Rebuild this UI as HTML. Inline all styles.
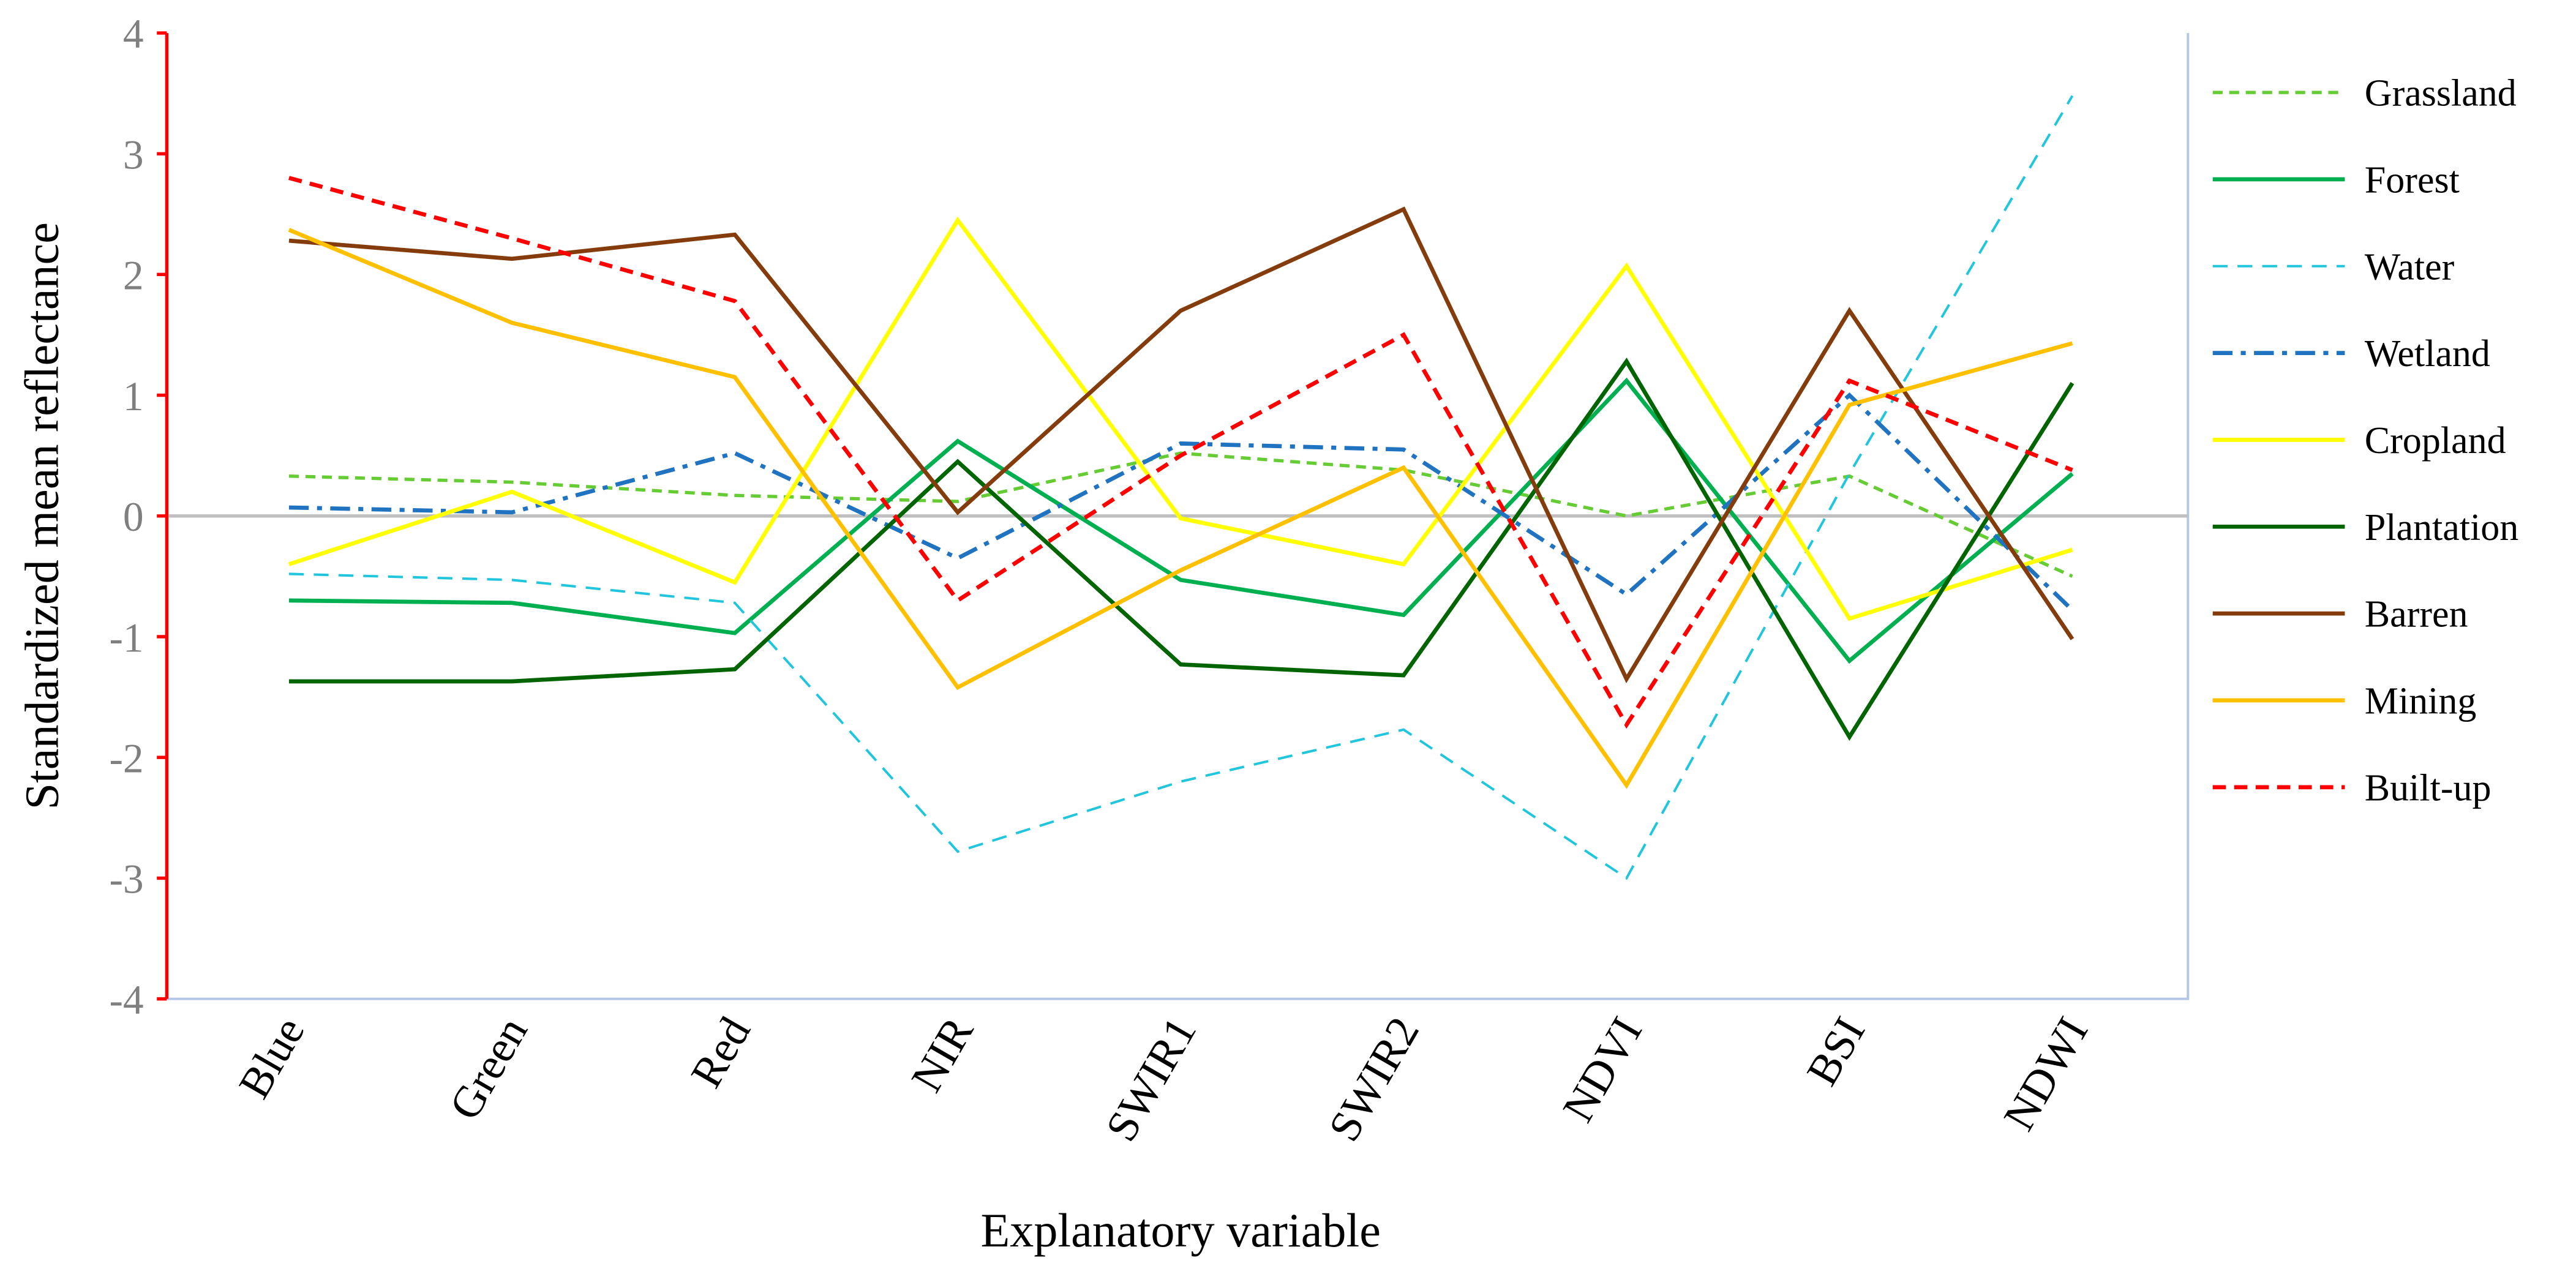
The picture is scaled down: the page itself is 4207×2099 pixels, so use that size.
<!DOCTYPE html>
<html><head><meta charset="utf-8"><style>
html,body{margin:0;padding:0;background:#fff;}
svg{display:block;}
text{font-family:"Liberation Serif",serif;}
</style></head><body>
<svg id="chart" width="4207" height="2099" viewBox="0 0 1560 778.3" preserveAspectRatio="none" xmlns="http://www.w3.org/2000/svg"></svg>
<script>
const categories=["Blue","Green","Red","NIR","SWIR1","SWIR2","NDVI","BSI","NDWI"];
const yTicks=[4,3,2,1,0,-1,-2,-3,-4];
const seriesNames=["Grassland","Forest","Water","Wetland","Cropland","Plantation","Barren","Mining","Built-up"];
const grassland=[0.33,0.28,0.17,0.12,0.52,0.38,0.0,0.33,-0.5];
const forest=[-0.7,-0.72,-0.97,0.62,-0.53,-0.82,1.12,-1.2,0.35];
const water=[-0.48,-0.53,-0.72,-2.78,-2.2,-1.77,-3.0,0.35,3.48];
const wetland=[0.07,0.03,0.52,-0.35,0.6,0.55,-0.65,1.0,-0.78];
const cropland=[-0.4,0.2,-0.55,2.45,-0.02,-0.4,2.07,-0.85,-0.28];
const plantation=[-1.37,-1.37,-1.27,0.45,-1.23,-1.32,1.28,-1.83,1.1];
const barren=[2.28,2.13,2.33,0.03,1.7,2.54,-1.35,1.7,-1.02];
const mining=[2.37,1.6,1.15,-1.42,-0.45,0.4,-2.23,0.92,1.43];
const builtup=[2.8,2.3,1.78,-0.7,0.5,1.5,-1.73,1.12,0.38];

const svg=document.getElementById('chart');
const NS="http://www.w3.org/2000/svg";
const X0=101,X1=1325,Y0=20,Y1=605;
function xs(i){return 175+i*135;}
function ys(v){return Y0+(4-v)*(Y1-Y0)/8;}
function mk(tag,attrs,parent){const e=document.createElementNS(NS,tag);for(const k in attrs)e.setAttribute(k,attrs[k]);(parent||svg).appendChild(e);return e;}

let fr=mk('path',{d:`M${X0} ${Y1}H${X1}V${Y0}`,stroke:'#b4c7e7',fill:'none','stroke-width':1.5});


let zl=mk('line',{x1:X0,x2:X1,y1:ys(0),y2:ys(0),stroke:'#bfbfbf','stroke-width':2});


let ya=mk('line',{x1:X0,x2:X0,y1:Y0,y2:Y1,stroke:'#ff0000','stroke-width':2});


yTicks.forEach(v=>{
  let t=mk('line',{x1:X0-6,x2:X0,y1:ys(v),y2:ys(v),stroke:'#ff0000','stroke-width':2});
  
  
  let l=mk('text',{x:X0-14,y:ys(v)+9,'text-anchor':'end','font-size':25,fill:'#7f7f7f'});
  l.textContent=v;
  
  
});
categories.forEach((c,i)=>{
  let l=mk('text',{transform:`translate(${xs(i)+10},${Y1+18}) rotate(-60)`,'text-anchor':'end','font-size':27,fill:'#000'});
  l.textContent=c;
  
  
});
let xt=mk('text',{x:715,y:755,'text-anchor':'middle','font-size':29,fill:'#000'});
xt.textContent="Explanatory variable";


let yt=mk('text',{transform:`translate(35,${ys(0)}) rotate(-90)`,'text-anchor':'middle','font-size':29,fill:'#000'});
yt.textContent="Standardized mean reflectance";



const allData=[grassland,forest,water,wetland,cropland,plantation,barren,mining,builtup];
const styles=[
 {c:'#66cc33',w:2,d:'6 4'},
 {c:'#00b050',w:2.5,d:''},
 {c:'#22c6dc',w:1.5,d:'9 6'},
 {c:'#1f73c0',w:2.5,d:'12 5 3 5'},
 {c:'#ffff00',w:2.5,d:''},
 {c:'#006400',w:2.5,d:''},
 {c:'#843c0c',w:2.5,d:''},
 {c:'#ffc000',w:2.5,d:''},
 {c:'#ff0000',w:2.5,d:'8 5'}];
allData.forEach((arr,s)=>{
  const st=styles[s];
  let p=mk('polyline',{points:arr.map((v,i)=>xs(i)+','+ys(v)).join(' '),fill:'none',stroke:st.c,'stroke-width':st.w,'stroke-dasharray':st.d,'stroke-linejoin':'miter'});
  
  
  const ly=56+s*52.6;
  let g=mk('g',{});
  
  
  mk('line',{x1:1340,x2:1420,y1:ly,y2:ly,stroke:st.c,'stroke-width':st.w,'stroke-dasharray':st.d},g);
  let t=mk('text',{x:1432,y:ly+8,'font-size':23,fill:'#000'},g);
  t.textContent=seriesNames[s];
});
</script>
</body></html>
